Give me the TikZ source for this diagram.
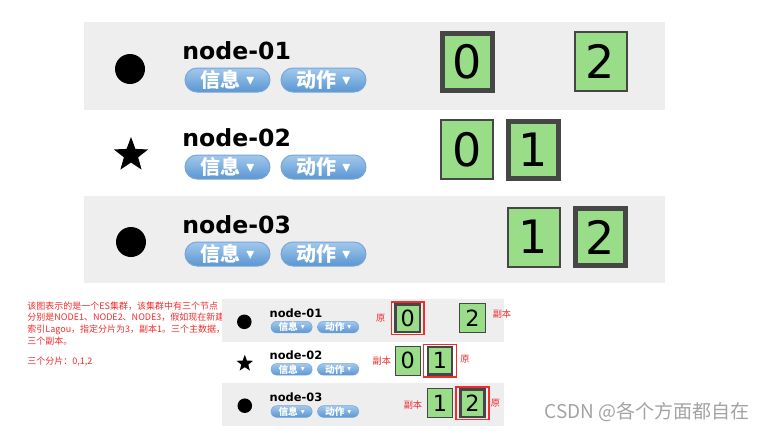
\documentclass[tikz,border=0pt]{standalone}
\usepackage{fontspec}
\setmainfont{DejaVu Sans}
\newfontfamily\cjk{Noto Sans CJK SC}
\usetikzlibrary{positioning,fit,shapes.geometric}
\definecolor{band}{HTML}{EEEEEE}
\definecolor{shardfill}{HTML}{99DD88}
\definecolor{shardline}{HTML}{464646}
\definecolor{pilltop}{HTML}{A2C8EC}
\definecolor{pillbot}{HTML}{5A97D2}
\definecolor{pillline}{HTML}{7AA6D6}
\definecolor{annored}{HTML}{F22B2B}
\definecolor{markgray}{HTML}{A3A3A3}
\newcommand{\caret}{{\rmfamily\mdseries\fontsize{8pt}{8pt}\selectfont ▾}}
\newcommand{\pilltext}[1]{\raisebox{-1.2pt}{#1}\hspace{3pt}\caret}
\tikzset{
  hostdot/.style={circle, fill=black, minimum size=15pt, inner sep=0pt},
  hoststar/.style={star, star points=5, star point ratio=2.4, fill=black,
                   minimum size=18pt, inner sep=0pt},
  hostname/.style={anchor=west, inner sep=0pt, font=\bfseries\fontsize{11.8pt}{12pt}\selectfont},
  pill/.style={draw=pillline, line width=#1*0.5pt, top color=pilltop, bottom color=pillbot,
               rounded corners=#1*6pt, minimum width=42.5pt, minimum height=12pt, inner sep=0pt,
               text=white, font=\cjk\bfseries\fontsize{10pt}{10pt}\selectfont},
  shard/.style={draw=shardline, fill=shardfill, inner sep=0pt,
                font=\fontsize{23pt}{23pt}\selectfont},
  primary/.style={shard, line width=#1*2.5pt, minimum width=25pt, minimum height=28.5pt},
  replica/.style={shard, line width=#1*1pt, minimum width=26pt, minimum height=29.5pt},
  redmark/.style={draw=annored, line width=0.7pt, inner xsep=1.8pt, inner ysep=0.9pt},
  tag/.style={inner sep=0pt, text=annored, font=\cjk\fontsize{4.6pt}{5pt}\selectfont},
  note/.style={inner sep=0pt, text=annored, align=left,
               font=\cjk\fontsize{4.5pt}{5.85pt}\selectfont},
  % one view of the three ES nodes; #1 = scale, for line widths
  pics/clusterview/.style={code={
    \fill[band] (0,0) rectangle (581,88);
    \fill[band] (0,174) rectangle (581,261);
    \node[hostdot] (-dot1) at (46,47) {};
    \node[hoststar] (-dot2) at (47,133) {};
    \node[hostdot] (-dot3) at (47,220) {};
    \foreach \r/\y in {1/0, 2/87, 3/174} {
      \node[hostname] (-name\r) at (98,\y+28.5) {node-0\r};
      \node[pill=#1] (-info\r) at (143.5,\y+58) {\pilltext{信息}};
      \node[pill=#1] (-act\r) at (239.5,\y+58) {\pilltext{动作}};
    }
    \node[primary=#1] (-s10) at (383,39.5) {0};
    \node[replica=#1] (-s12) at (516.5,39.5) {2};
    \node[replica=#1] (-s20) at (383,127.5) {0};
    \node[primary=#1] (-s21) at (449.5,127.5) {1};
    \node[replica=#1] (-s31) at (449.5,215) {1};
    \node[primary=#1] (-s32) at (516.5,215) {2};
  }}
}
\begin{document}
\begin{tikzpicture}[x=0.5pt, y=-0.5pt]
  \useasboundingbox (0,0) rectangle (764,430);
  \pic (big) at (84,22) {clusterview=1};
  \node[note, anchor=north west] (desc) at (27,301)
    {该图表示的是一个ES集群，该集群中有三个节点\\
     分别是NODE1、NODE2、NODE3，假如现在新建\\
     索引Lagou，指定分片为3，副本1。三个主数据，\\
     三个副本。};
  \node[note, below=5.5pt of desc.south west, anchor=north west] (shards) {三个分片：0,1,2};
  \pic[transform shape, scale=0.485] (small) at (222,299) {clusterview=0.485};
  % primaries marked in red
  \node[redmark, fit=(small-s10)] (mark1) {};
  \node[redmark, fit=(small-s21)] (mark2) {};
  \node[redmark, fit=(small-s32)] (mark3) {};
  \node[tag, left=2.5pt of mark1] (orig1) {原};
  \node[tag, right=3.5pt of small-s12, yshift=2pt] (copy1) {副本};
  \node[tag, left=1.7pt of small-s20] (copy2) {副本};
  \node[tag, right=1.5pt of mark2, yshift=1pt] (orig2) {原};
  \node[tag, left=2.3pt of small-s31, yshift=-1pt] (copy3) {副本};
  \node[tag, right=0.5pt of mark3] (orig3) {原};
  \node[text=markgray, font=\cjk\fontsize{9.5pt}{10pt}\selectfont] (wmark) at (647,412)
    {CSDN @各个方面都自在};
\end{tikzpicture}
\end{document}
